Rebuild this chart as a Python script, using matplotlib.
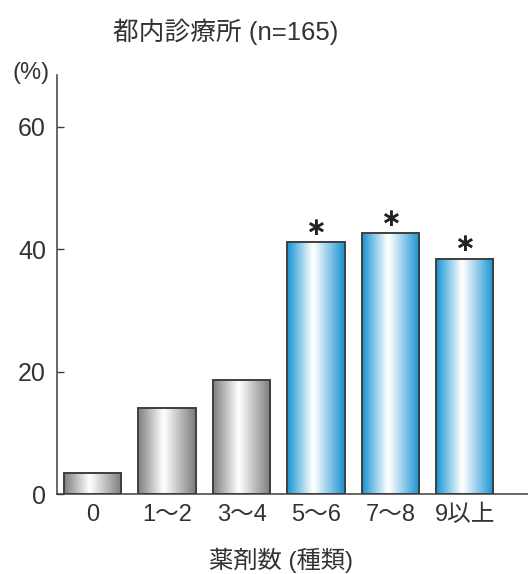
import numpy as np
import matplotlib
matplotlib.use("Agg")
import matplotlib.pyplot as plt
from matplotlib.colors import LinearSegmentedColormap

plt.rcParams['font.family'] = ['Liberation Sans', 'Noto Sans CJK JP']

categories = ['0', '1〜2', '3〜4', '5〜6', '7〜8', '9以上']
percent = [3.4, 14.0, 18.6, 41.2, 42.6, 38.5]
significant = [False, False, False, True, True, True]
yticks = [0, 20, 40, 60]

text_color = '#333333'
edge_color = '#3f3f3f'

# horizontal shading: dark edges, bright band a little left of centre
gray_cmap = LinearSegmentedColormap.from_list(
    'gray_bar', [(0.0, '#7e7e7e'), (0.44, '#ffffff'), (0.5, '#f4f4f4'), (1.0, '#7a7a7a')])
blue_cmap = LinearSegmentedColormap.from_list(
    'blue_bar', [(0.0, '#1593d2'), (0.44, '#ffffff'), (0.5, '#f2f8fd'), (1.0, '#1592d2')])

fig = plt.figure(figsize=(5.28, 5.74), dpi=100)
ax = fig.add_axes([57 / 528, 80 / 574, 1 - 57 / 528, (494 - 75) / 574])

width = 0.77
grad = np.linspace(0, 1, 256).reshape(1, -1)
for i, (val, sig) in enumerate(zip(percent, significant)):
    cmap = blue_cmap if sig else gray_cmap
    ax.imshow(grad, cmap=cmap, aspect='auto', interpolation='bilinear',
              extent=(i - width / 2, i + width / 2, 0, val), zorder=2)
    ax.bar(i, val, width=width, facecolor='none', edgecolor=edge_color,
           linewidth=1.4, zorder=3)
    if sig:
        ax.text(i, val + 2.3, '∗', ha='center', va='center', fontsize=18,
                color='#222222', family='DejaVu Sans', fontweight='bold')

ax.set_xlim(-0.48, 5.85)
ax.set_ylim(0, 68.5)
ax.set_xticks(range(len(categories)))
ax.set_xticklabels(categories)
ax.set_yticks(yticks)
ax.tick_params(axis='x', length=0, pad=7, labelsize=17, labelcolor=text_color)
ax.tick_params(axis='y', direction='in', length=5, width=1.0, pad=8,
               labelsize=18, labelcolor=text_color, color=edge_color)

for side in ['top', 'right']:
    ax.spines[side].set_visible(False)
for side in ['left', 'bottom']:
    ax.spines[side].set_color(edge_color)
    ax.spines[side].set_linewidth(1.1)

fig.text(226 / 528, 1 - 32 / 574, '都内診療所 (n=165)', ha='center', va='center',
         fontsize=18.5, color=text_color)
fig.text(31 / 528, 1 - 73 / 574, '(%)', ha='center', va='center',
         fontsize=17, color=text_color)
fig.text(281 / 528, 1 - 560 / 574, '薬剤数 (種類)', ha='center', va='center',
         fontsize=17.5, color=text_color)

fig.savefig('out.png', dpi=100)
